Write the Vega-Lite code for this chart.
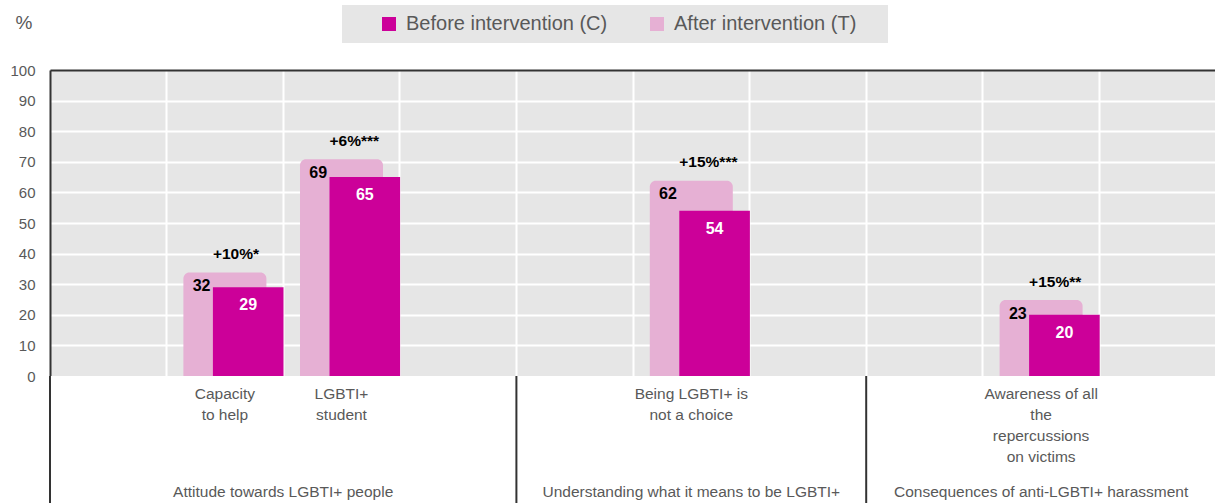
{
  "$schema": "https://vega.github.io/schema/vega-lite/v6.json",
  "padding": {"left": 9, "top": 5, "right": 0, "bottom": 0},
  "background": "white",
  "bounds": "flush",
  "spacing": 0,
  "config": {"font": "Liberation Sans", "view": {"stroke": null}},
  "datasets": {
    "bars": [
      {"slot": "s1", "before": 29, "after": 32, "sig": "+10%*"},
      {"slot": "s2", "before": 65, "after": 69, "sig": "+6%***"},
      {"slot": "s5", "before": 54, "after": 62, "sig": "+15%***"},
      {"slot": "s8", "before": 20, "after": 23, "sig": "+15%**"}
    ],
    "cats": [
      {"slot": "s1", "level": "category", "label": "Capacity\nto help"},
      {"slot": "s2", "level": "category", "label": "LGBTI+\nstudent"},
      {"slot": "s5", "level": "category", "label": "Being LGBTI+ is\nnot a choice"},
      {"slot": "s8", "level": "category", "label": "Awareness of all\nthe\nrepercussions\non victims"}
    ],
    "groupA": [
      {"slot": "s2", "level": "group", "label": "Attitude towards LGBTI+ people"}
    ],
    "groupB": [
      {"slot": "s5", "level": "group", "label": "Understanding what it means to be LGBTI+"},
      {"slot": "s8", "level": "group", "label": "Consequences of anti-LGBTI+ harassment"}
    ],
    "dividers": [
      {"slot": "s0"}, {"slot": "s4"}, {"slot": "s7"}
    ]
  },
  "vconcat": [
    {
      "width": 1166,
      "height": 306,
      "view": {"fill": "#e6e6e6", "stroke": null},
      "data": {"name": "bars"},
      "resolve": {"axis": {"x": "independent", "y": "independent"}},
      "layer": [
        {
          "mark": {"type": "bar", "width": 83, "yOffset": -5.5, "y2Offset": 5.5, "cornerRadiusTopLeft": 6, "cornerRadiusTopRight": 6},
          "encoding": {
            "x": {"field": "slot", "type": "nominal",
              "scale": {"type": "band", "domain": ["s0","s1","s2","s3","s4","s5","s6","s7","s8","s9"], "paddingInner": 0, "paddingOuter": 0},
              "axis": {"orient": "bottom", "domain": false, "labels": false, "ticks": false, "title": null, "grid": true, "gridColor": "white", "gridWidth": 2, "bandPosition": 0, "values": ["s1","s2","s3","s4","s5","s6","s7","s8","s9"], "tickCount": 20}},
            "y": {"field": "after", "type": "quantitative",
              "scale": {"domain": [0, 100], "nice": false},
              "axis": {"values": [0,10,20,30,40,50,60,70,80,90,100], "tickCount": 11, "labelOverlap": false, "domain": true, "domainColor": "#333333", "domainWidth": 2, "ticks": false,
                "labelColor": "#595959", "labelFontSize": 15, "labelPadding": 15,
                "gridColor": "white", "gridWidth": 2,
                "gridOpacity": {"condition": {"test": "datum.value === 0 || datum.value === 100", "value": 0}, "value": 1},
                "title": "%", "titleAngle": 0, "titleAlign": "left", "titleBaseline": "middle", "titleX": -35, "titleY": -48,
                "titleFontSize": 19, "titleFontWeight": "normal", "titleColor": "#595959"}},
            "y2": {"datum": 0},
            "color": {"datum": "After intervention (T)", "type": "nominal",
              "scale": {"domain": ["Before intervention (C)", "After intervention (T)"], "range": ["#cc0099", "#e6b0d4"]},
              "legend": {"orient": "none", "legendX": 292, "legendY": -65, "direction": "horizontal",
                "title": " ", "titleOrient": "right", "titlePadding": 23, "titleFontSize": 20,
                "fillColor": "#e6e6e6", "padding": 9, "symbolType": "square", "symbolSize": 196, "symbolStrokeWidth": 0,
                "labelFontSize": 20, "labelColor": "#595959", "labelOffset": 7, "labelLimit": 400, "columnPadding": 11, "symbolOffset": 28}}
          }
        },
        {
          "mark": {"type": "bar", "width": 70.6, "xOffset": 23.3},
          "encoding": {
            "x": {"field": "slot", "type": "nominal", "scale": {"type": "band"}, "axis": null},
            "y": {"field": "before", "type": "quantitative", "axis": null},
            "color": {"datum": "Before intervention (C)", "type": "nominal"}
          }
        },
        {
          "mark": {"type": "text", "fontSize": 16, "fontWeight": "bold", "color": "black", "baseline": "middle", "xOffset": -23.3, "dy": 8},
          "encoding": {
            "x": {"field": "slot", "type": "nominal", "scale": {"type": "band"}, "axis": null},
            "y": {"field": "after", "type": "quantitative", "axis": null},
            "text": {"field": "after"}
          }
        },
        {
          "mark": {"type": "text", "fontSize": 16, "fontWeight": "bold", "color": "white", "baseline": "middle", "xOffset": 23.3, "dy": 18},
          "encoding": {
            "x": {"field": "slot", "type": "nominal", "scale": {"type": "band"}, "axis": null},
            "y": {"field": "before", "type": "quantitative", "axis": null},
            "text": {"field": "before"}
          }
        },
        {
          "mark": {"type": "text", "fontSize": 15.5, "fontWeight": "bold", "color": "black", "baseline": "middle", "align": "left", "xOffset": -12, "dy": -24},
          "encoding": {
            "x": {"field": "slot", "type": "nominal", "scale": {"type": "band"},
              "axis": {"orient": "top", "labels": false, "ticks": false, "grid": false, "domain": true, "domainColor": "#333333", "domainWidth": 2, "title": null}},
            "y": {"field": "after", "type": "quantitative", "axis": null},
            "text": {"field": "sig"}
          }
        }
      ]
    },
    {
      "width": 1166,
      "height": 127,
      "view": {"stroke": null, "fill": "white"},
      "layer": [
        {
          "data": {"name": "dividers"},
          "mark": {"type": "rule", "color": "#333333", "strokeWidth": 2},
          "encoding": {
            "x": {"field": "slot", "type": "nominal", "bandPosition": 0,
              "scale": {"type": "band", "domain": ["s0","s1","s2","s3","s4","s5","s6","s7","s8","s9"], "paddingInner": 0, "paddingOuter": 0},
              "axis": {"orient": "top", "labels": false, "ticks": false, "grid": false, "domain": true, "domainColor": "#333333", "domainWidth": 2, "title": null, "zindex": 1}}
          }
        },
        {
          "data": {"name": "cats"},
          "mark": {"type": "text", "baseline": "top", "fontSize": 15.5, "color": "#595959", "lineBreak": "\n", "lineHeight": 21, "dy": 11},
          "encoding": {
            "x": {"field": "slot", "type": "nominal", "scale": {"type": "band"}, "axis": null},
            "y": {"field": "level", "type": "nominal", "bandPosition": 0,
              "scale": {"type": "band", "domain": ["category", "group"], "paddingInner": 0, "paddingOuter": 0}, "axis": null},
            "text": {"field": "label"}
          }
        },
        {
          "data": {"name": "groupA"},
          "mark": {"type": "text", "baseline": "middle", "fontSize": 15.5, "color": "#595959", "dy": 20.5},
          "encoding": {
            "x": {"field": "slot", "type": "nominal", "bandPosition": 0, "scale": {"type": "band"}, "axis": null},
            "y": {"field": "level", "type": "nominal", "scale": {"type": "band"}, "axis": null},
            "text": {"field": "label"}
          }
        },
        {
          "data": {"name": "groupB"},
          "mark": {"type": "text", "baseline": "middle", "fontSize": 15.5, "color": "#595959", "dy": 20.5},
          "encoding": {
            "x": {"field": "slot", "type": "nominal", "scale": {"type": "band"}, "axis": null},
            "y": {"field": "level", "type": "nominal", "scale": {"type": "band"}, "axis": null},
            "text": {"field": "label"}
          }
        }
      ]
    }
  ]
}
